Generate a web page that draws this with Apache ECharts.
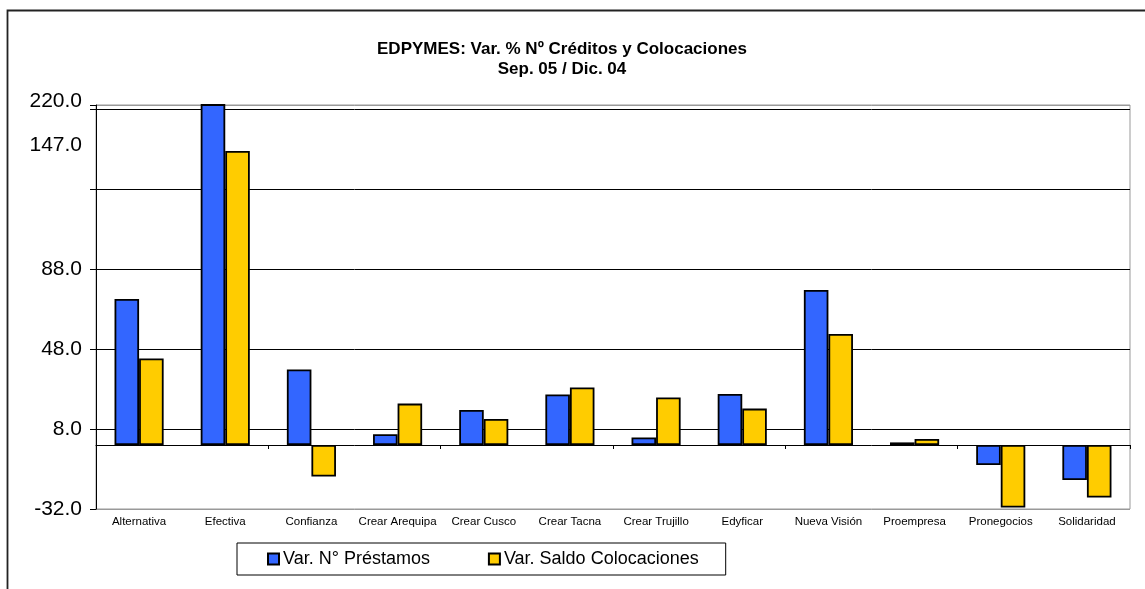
<!DOCTYPE html>
<html>
<head>
<meta charset="utf-8">
<script src="https://cdn.jsdelivr.net/npm/echarts@6/dist/echarts.min.js"></script>
<style>
    html, body { margin: 0; padding: 0; background: #fff; }
    #chart { width: 1145px; height: 589px; }
</style>
</head>
<body>
<div id="chart"></div>
<script>
const categories = ['Alternativa', 'Efectiva', 'Confianza', 'Crear Arequipa', 'Crear Cusco', 'Crear Tacna',
    'Crear Trujillo', 'Edyficar', 'Nueva Visión', 'Proempresa', 'Pronegocios', 'Solidaridad']
const prestamos = [73, 220, 37.8, 5.4, 17.5, 25.3, 3.8, 25.5, 77.5, 1.3, -10, -17.5]
const colocaciones = [43.3, 147, -15.8, 20.7, 13, 28.8, 23.8, 18.2, 55.5, 3, -31.3, -26.3]
// etiquetas del eje: las normales y las dos "de corte" que estan puestas a mano
const axisLabels = { '-32': '-32.0', '8': '8.0', '48': '48.0', '88': '88.0' }
const breakLabels = [
    { value: 150, text: '147.0' },
    { value: 172, text: '220.0' },
]

const chart = echarts.init(document.getElementById('chart'))
const font = 'Arial, "Liberation Sans", sans-serif'

chart.setOption({
    animation: false,
    title: {
        text: 'EDPYMES: Var. % Nº Créditos y Colocaciones\nSep. 05 / Dic. 04',
        left: 557,
        top: 34,
        textAlign: 'center',
        textStyle: { fontFamily: font, fontSize: 17, fontWeight: 'bold', color: '#000', lineHeight: 20 },
    },
    legend: {
        left: 237,
        top: 543,
        padding: [7, 27, 7, 30],
        itemGap: 58,
        itemWidth: 11,
        itemHeight: 11,
        icon: 'rect',
        borderColor: '#000',
        borderWidth: 1,
        textStyle: { fontFamily: font, fontSize: 18, color: '#000', padding: [0, 0, 0, -1] },
        data: ['Var. N° Préstamos', 'Var. Saldo Colocaciones'],
    },
    grid: {
        left: 96, right: 15, top: 105, bottom: 80,
        show: true, borderColor: '#999', borderWidth: 1,
    },
    xAxis: [
        {
            // eje solo para las etiquetas, abajo
            type: 'category',
            data: categories,
            position: 'bottom',
            axisLine: { show: false, onZero: false },
            axisTick: { show: false },
            axisLabel: { fontFamily: font, fontSize: 11.5, color: '#000', margin: 7, interval: 0 },
        },
        {
            // eje en cero con las marcas
            type: 'category',
            data: categories,
            position: 'bottom',
            axisLine: { show: true, onZero: true, lineStyle: { color: '#000', width: 1 } },
            axisTick: { show: true, length: 4, lineStyle: { color: '#000' } },
            axisLabel: { show: false },
        },
    ],
    yAxis: {
        type: 'value',
        min: -32,
        max: 170,
        interval: 40,
        axisLine: { show: true, lineStyle: { color: '#000', width: 1 } },
        axisTick: { show: true, length: 6, lineStyle: { color: '#000' } },
        splitLine: {
            show: true,
            lineStyle: { color: ['#999', '#000', '#000', '#000', '#000', '#000', '#999'], width: 1 },
        },
        axisLabel: {
            fontFamily: font, fontSize: 21, color: '#000', margin: 14,
            formatter: (v) => axisLabels[String(v)] || '',
        },
    },
    series: [
        {
            name: 'Var. N° Préstamos',
            type: 'bar',
            data: prestamos,
            barGap: '0%',
            barCategoryGap: '43%',
            itemStyle: { color: '#3366FF', borderColor: '#000', borderWidth: 1.8 },
        },
        {
            name: 'Var. Saldo Colocaciones',
            type: 'bar',
            data: colocaciones,
            itemStyle: { color: '#FFCC00', borderColor: '#000', borderWidth: 1.8 },
        },
    ],
})

// marco exterior y etiquetas del corte del eje
const labelRight = 96 - 14
chart.setOption({
    graphic: [
        {
            type: 'polyline',
            shape: { points: [[7.5, 589], [7.5, 10.5], [1145, 10.5]] },
            style: { stroke: '#222', lineWidth: 1.8, fill: null },
        },
        ...breakLabels.map((b) => ({
            type: 'text',
            x: labelRight,
            y: chart.convertToPixel({ yAxisIndex: 0 }, b.value),
            style: {
                text: b.text, fontFamily: font, fontSize: 21, fill: '#000',
                align: 'right', verticalAlign: 'middle',
            },
        })),
    ],
})
</script>
</body>
</html>
